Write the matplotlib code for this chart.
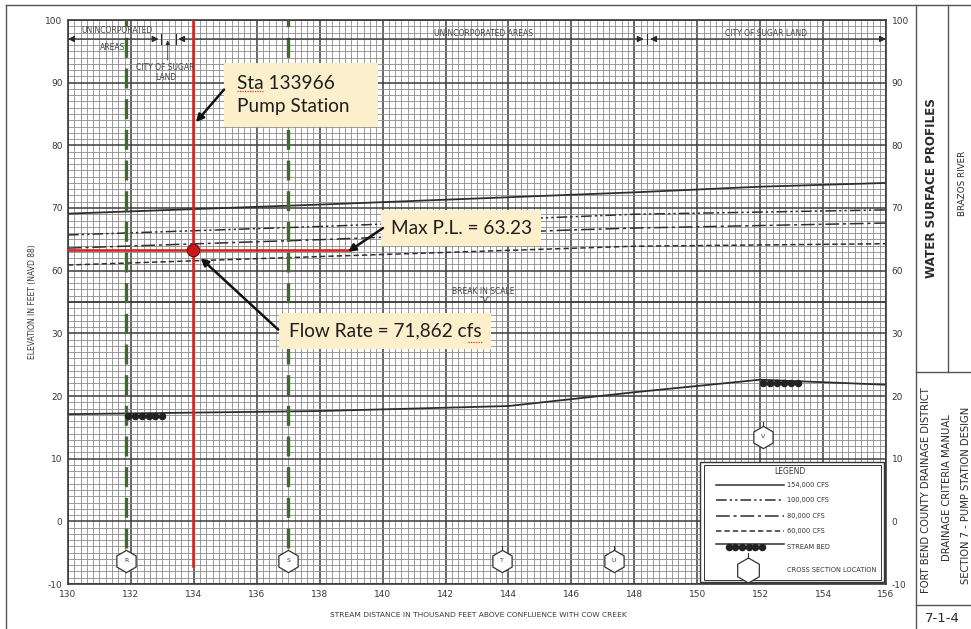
import numpy as np
import matplotlib.pyplot as plt
from matplotlib import font_manager
from matplotlib.lines import Line2D
from matplotlib.patches import Rectangle
from matplotlib.ticker import MultipleLocator, FixedLocator

# water surface profiles (station in 1000 ft, elevation in ft NAVD 88)
sta_154k = [130, 138.3, 148, 152, 156]
wse_154k = [69.1, 70.6, 72.5, 73.4, 74.0]
sta_100k = [130, 138.3, 146, 148, 156]
wse_100k = [65.7, 67.1, 68.6, 69.0, 69.7]
sta_80k = [130, 138.3, 146, 148, 156]
wse_80k = [63.6, 65.0, 66.5, 66.8, 67.6]
sta_60k = [130, 138.3, 148, 156]
wse_60k = [60.9, 62.3, 63.9, 64.3]

# stream bed
bed_sta = [130, 138, 144, 148, 152, 156]
bed_elev = [17.1, 17.6, 18.4, 20.6, 22.6, 21.8]
bed_marks = [(131.9, 133.0, 16.8), (152.1, 153.2, 22.1)]

# cross sections
xs_ids = ['R', 'S', 'T', 'U', 'V']
xs_sta = [131.85, 137.0, 143.8, 147.35, 152.1]
xs_elev = [-6.3, -6.3, -6.3, -6.3, 13.5]
xs_dashed = ['R', 'S']

# pump station
pump_sta = 133.966
max_pl = 63.23
max_pl_end = 138.9
flow_rate = '71,862'

xticks = list(range(130, 157, 2))
ytick_elev = [-10, 0, 10, 20, 30, 60, 70, 80, 90, 100]

legend_items = ['154,000 CFS', '100,000 CFS', '80,000 CFS', '60,000 CFS']

W, H = 971, 629
names = {f.name for f in font_manager.fontManager.ttflist}
NARROW = 'Liberation Sans Narrow' if 'Liberation Sans Narrow' in names else 'DejaVu Sans'
BOXFONT = 'Lato' if 'Lato' in names else 'DejaVu Sans'
INK = '#383838'


def pos(e):
    # scale break: everything at or below 40 ft is shifted up by 20
    e = np.asarray(e, dtype=float)
    return np.where(e >= 50, e, e + 20)


def fx(x):
    return x / W


def fy(y):
    return 1 - y / H


styles = {
    '154k': dict(ls='-'),
    '100k': dict(ls=(0, (7, 2, 1.5, 2, 1.5, 2))),
    '80k': dict(ls=(0, (9, 2.5, 2, 2.5))),
    '60k': dict(ls=(0, (3.5, 2))),
}

fig = plt.figure(figsize=(W / 100, H / 100), dpi=100)
ax = fig.add_axes([fx(68), fy(584), fx(886) - fx(68), fy(20) - fy(584)])
ax.set_xlim(130, 156)
ax.set_ylim(10, 100)

# graph paper
ax.xaxis.set_major_locator(MultipleLocator(2))
ax.xaxis.set_minor_locator(MultipleLocator(0.2))
ax.yaxis.set_major_locator(FixedLocator(pos(ytick_elev)))
ax.yaxis.set_minor_locator(MultipleLocator(1))
ax.grid(which='minor', color='#8c8c8c', lw=0.6)
ax.grid(which='major', color='#3c3c3c', lw=1.1)
ax.set_axisbelow(True)
ax.axhline(55, color='#3a3a3a', lw=1.3, zorder=1)
for s in ax.spines.values():
    s.set_color('#3a3a3a')
    s.set_linewidth(1.2)

ax.set_xticks(xticks)
ax.set_xticklabels([str(t) for t in xticks])
ax.set_yticklabels([str(t) for t in ytick_elev])
ax.tick_params(which='both', length=0, labelsize=6.5, labelcolor=INK,
               labelright=True, pad=4)
for lab in ax.get_xticklabels() + ax.get_yticklabels():
    lab.set_family(NARROW)

fig.text(fx(33), fy(302), 'ELEVATION IN FEET (NAVD 88)', rotation=90,
         ha='center', va='center', fontsize=5.5, color=INK, family=NARROW)
fig.text(fx(478), fy(615), 'STREAM DISTANCE IN THOUSAND FEET ABOVE CONFLUENCE WITH COW CREEK',
         ha='center', va='center', fontsize=5.4, color=INK, family=NARROW)

# profiles
ax.plot(sta_154k, pos(wse_154k), color='#2e2e2e', lw=1.3, **styles['154k'])
ax.plot(sta_100k, pos(wse_100k), color='#2e2e2e', lw=1.1, **styles['100k'])
ax.plot(sta_80k, pos(wse_80k), color='#2e2e2e', lw=1.1, **styles['80k'])
ax.plot(sta_60k, pos(wse_60k), color='#2e2e2e', lw=1.1, **styles['60k'])
ax.plot(bed_sta, pos(bed_elev), color='#2e2e2e', lw=1.3)
for a, b, e in bed_marks:
    xs = np.linspace(a, b, 6)
    ax.plot(xs, pos(np.full_like(xs, e)), color='#222222', lw=2.2,
            marker='o', ms=4.4, zorder=4)

# cross sections
for cid, s, e in zip(xs_ids, xs_sta, xs_elev):
    p = float(pos(e))
    if cid in xs_dashed:
        ax.plot([s, s], [p + 2.0, 100], color='#3d6b2e', lw=2.4,
                ls=(0, (6, 3.2)), zorder=3)
    else:
        ax.plot([s, s], [p + 1.5, p + 2.4], color='#333333', lw=0.8, zorder=5)
    ax.plot(s, p, marker='h', ms=16, mfc='white', mec='#333333', mew=0.9, zorder=5)
    ax.text(s, p, cid, ha='center', va='center', fontsize=4.5, color=INK,
            family=NARROW, zorder=6)

# pump station
ax.plot([pump_sta, pump_sta], [pos(-7.2), 100], color='#d4281f', lw=1.9, zorder=6)
ax.plot([130, max_pl_end], [max_pl, max_pl], color='#d4281f', lw=1.9, zorder=6)
ax.plot(pump_sta, max_pl, 'o', ms=9, mfc='#c8161c', mec='#6a1010', mew=0.8, zorder=7)

# jurisdiction limits along the top
top = 96.97
arr = dict(arrowstyle='<|-|>', color='#2a2a2a', lw=0.9, mutation_scale=9,
           shrinkA=0, shrinkB=0)
for a, b in [(130, 132.88), (133.5, 148.3), (148.5, 156)]:
    ax.annotate('', xy=(a, top), xytext=(b, top), arrowprops=arr, zorder=5)
for t in [132.95, 133.44, 148.4]:
    ax.plot([t, t], [top - 0.8, top + 0.8], color='#2a2a2a', lw=0.8, zorder=5)
ax.annotate('', xy=(133.17, top - 0.2), xytext=(133.17, 93.6),
            arrowprops=dict(arrowstyle='-|>', color='#2a2a2a', lw=0.6,
                            mutation_scale=6, shrinkA=0, shrinkB=0), zorder=5)
small = dict(fontsize=5.5, color='#454545', family=NARROW, ha='center',
             va='center', zorder=6)
ax.text(131.55, 98.4, 'UNINCORPORATED', **small)
ax.text(131.42, 95.6, 'AREAS', **small)
ax.text(133.1, 92.5, 'CITY OF SUGAR', **small)
ax.text(133.1, 90.9, 'LAND', **small)
ax.text(143.2, 97.9, 'UNINCORPORATED AREAS', **small)
ax.text(152.2, 97.8, 'CITY OF SUGAR LAND', **small)
ax.text(143.2, 56.6, 'BREAK IN SCALE', **small)
ax.plot([143.1, 143.2, 143.25, 143.33, 143.38], [55.8, 55.8, 54.9, 55.8, 55.8],
        color='#333333', lw=0.6, zorder=5)

# callouts
FILL = '#fcefcb'
callout = dict(fontsize=13.7, family=BOXFONT, color='#1e1e1e', zorder=8)
ax.add_patch(Rectangle((134.96, 82.93), 4.89, 10.21, fc=FILL, ec='none', zorder=7))
ax.text(135.37, 88.0, 'Sta 133966\nPump Station', ha='left', va='center',
        linespacing=1.4, **callout)
ax.text(142.5, 66.8, f'Max P.L. = {max_pl:.2f}', ha='center', va='center',
        bbox=dict(boxstyle='square,pad=0.5', fc=FILL, ec='none'), **callout)
ax.text(140.08, 50.4, f'Flow Rate = {flow_rate} cfs', ha='center', va='center',
        bbox=dict(boxstyle='square,pad=0.5', fc=FILL, ec='none'), **callout)
# spell-check marks under "Sta" and "cfs"
ax.plot([135.37, 136.2], [88.75, 88.75], color='#d23a30', lw=0.9, ls=(0, (1, 1)), zorder=9)
ax.plot([142.72, 143.2], [48.6, 48.6], color='#d23a30', lw=0.9, ls=(0, (1, 1)), zorder=9)
pointer = dict(arrowstyle='-|>', color='#111111', lw=1.8, mutation_scale=11,
               shrinkA=0, shrinkB=0)
ax.annotate('', xy=(pump_sta + 0.1, 83.7), xytext=(134.96, 88.9),
            arrowprops=pointer, zorder=9)
ax.annotate('', xy=(max_pl_end, 63.0), xytext=(140.01, 66.8),
            arrowprops=pointer, zorder=9)
ax.annotate('', xy=(pump_sta + 0.25, 62.0), xytext=(136.68, 50.6),
            arrowprops=pointer, zorder=9)

# legend panel
ax.add_patch(Rectangle((150.09, 10.25), 5.85, 19.25, fc='white', ec='#333333',
                       lw=1.0, zorder=6))
ax.add_patch(Rectangle((150.2, 10.7), 5.63, 18.35, fc='none', ec='#333333',
                       lw=0.7, zorder=6))
leg_font = dict(fontsize=4.8, color='#333333', family=NARROW, va='center', zorder=7)
ax.text(152.95, 27.9, 'LEGEND', ha='center', fontsize=5.5, color='#333333',
        family=NARROW, va='center', zorder=7)
rows = [25.8, 23.4, 20.9, 18.5]
for lab, key, r in zip(legend_items, ['154k', '100k', '80k', '60k'], rows):
    ax.plot([150.6, 152.75], [r, r], color='#2e2e2e', lw=1.1, zorder=7, **styles[key])
    ax.text(152.85, r, lab, ha='left', **leg_font)
ax.plot([150.6, 152.75], [16.4, 16.4], color='#2e2e2e', lw=1.1, zorder=7)
xs = np.linspace(151.0, 152.05, 6)
ax.plot(xs, np.full_like(xs, 15.85), color='#222222', lw=2.2, marker='o', ms=4.4, zorder=7)
ax.text(152.85, 15.9, 'STREAM BED', ha='left', **leg_font)
ax.plot(151.6, 12.3, marker='h', ms=18, mfc='white', mec='#333333', mew=0.9, zorder=7)
ax.plot([151.6, 151.6], [14.1, 15.0], color='#333333', lw=0.8, zorder=7)
ax.text(152.85, 12.3, 'CROSS SECTION LOCATION', ha='left', **leg_font)

# sheet border and title block
frame = [((6, 5), (6, 629)), ((6, 5), (971, 5)), ((916, 5), (916, 629)),
         ((948, 5), (948, 372)), ((916, 372), (971, 372)), ((916, 605), (971, 605))]
for (x0, y0), (x1, y1) in frame:
    fig.add_artist(Line2D([fx(x0), fx(x1)], [fy(y0), fy(y1)], color='#555555',
                          lw=1.0, transform=fig.transFigure))
tb = dict(rotation=90, ha='center', va='center', color='#2a2a2a', family=NARROW)
fig.text(fx(931), fy(188), 'WATER SURFACE PROFILES', fontsize=8.6, fontweight='bold', **tb)
fig.text(fx(962), fy(183), 'BRAZOS RIVER', fontsize=6.3, **tb)
fig.text(fx(926), fy(490), 'FORT BEND COUNTY DRAINAGE DISTRICT', fontsize=7.2, **tb)
fig.text(fx(947), fy(488), 'DRAINAGE CRITERIA MANUAL', fontsize=7.2, **tb)
fig.text(fx(966), fy(495), 'SECTION 7 - PUMP STATION DESIGN', fontsize=7.2, **tb)
fig.text(fx(942), fy(619), '7-1-4', fontsize=9.5, ha='center', va='center',
         color='#2a2a2a', family=NARROW)

fig.savefig('out.png', dpi=100)
